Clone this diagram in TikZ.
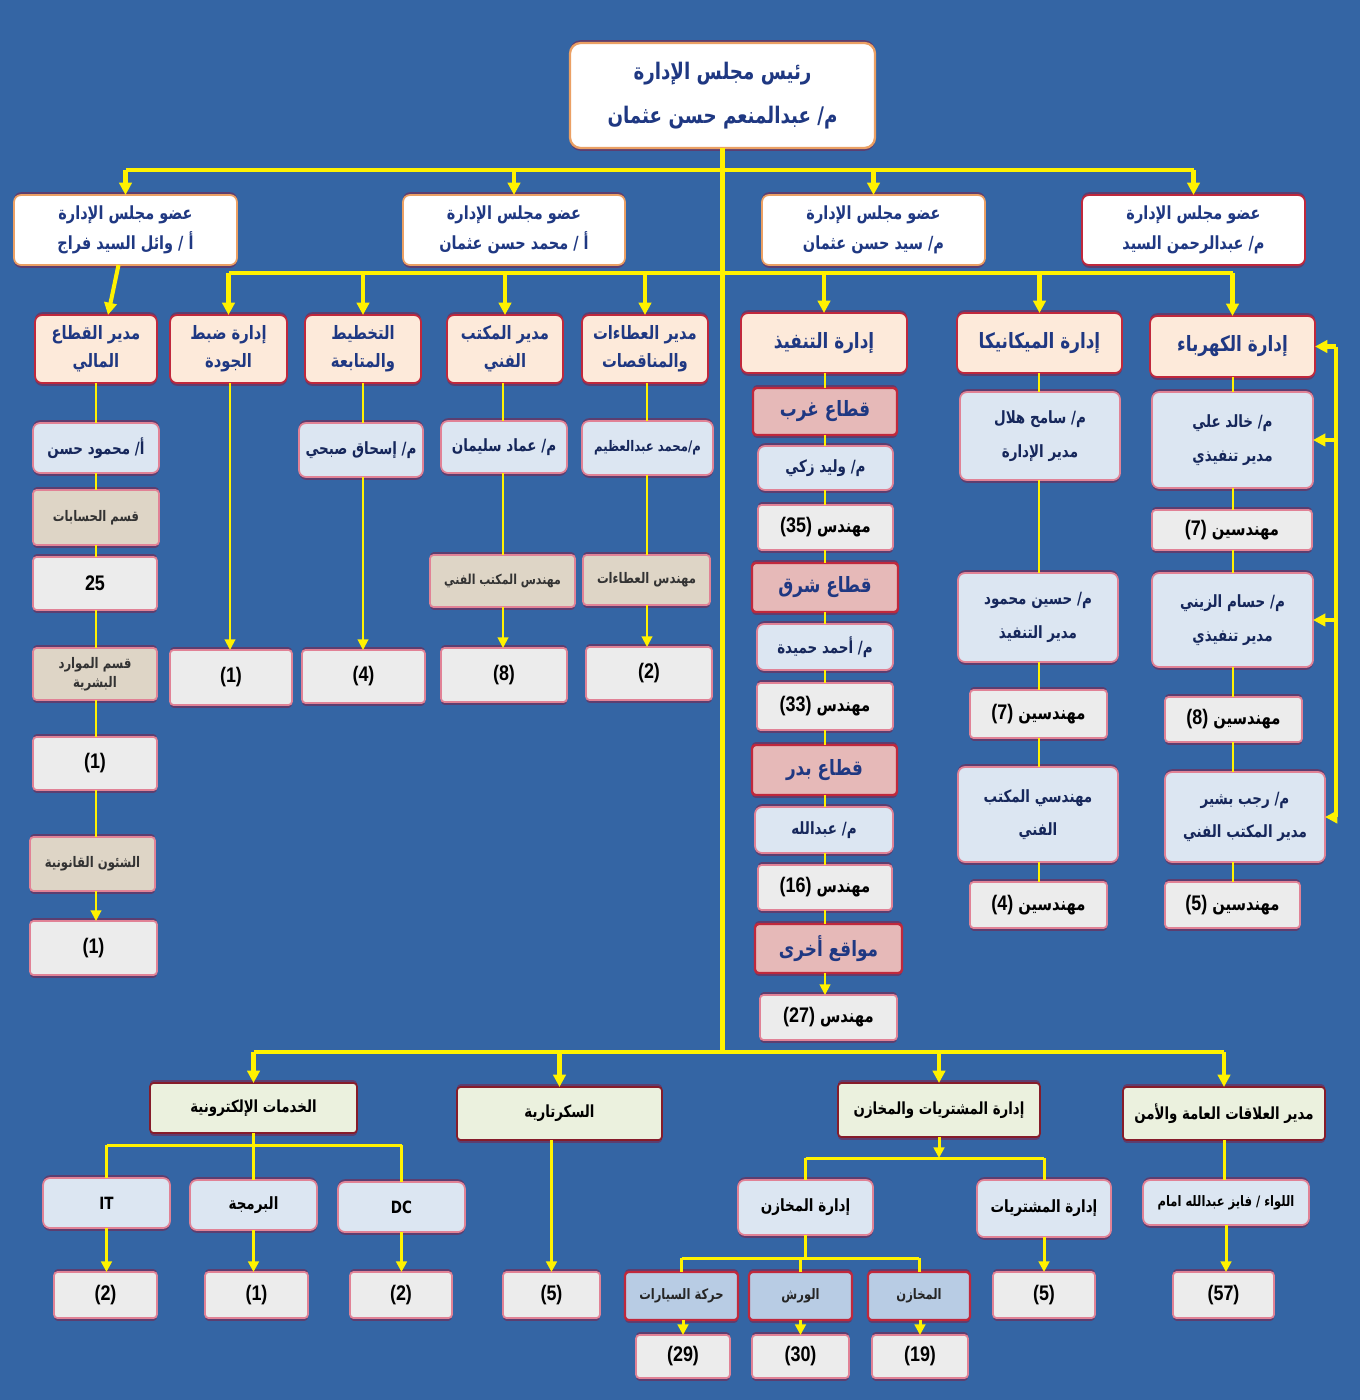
\documentclass[tikz,border=0pt]{standalone}
\usepackage{fontspec}
\setmainfont{Liberation Sans}[FakeStretch=0.85]
\newfontfamily\arabicfont[Script=Arabic,FakeStretch=0.8]{DejaVu Sans}
\TeXXeTstate=1
\usetikzlibrary{arrows.meta,shadows,calc}
\definecolor{bgblue}{RGB}{52,101,164}
\definecolor{navy}{RGB}{31,56,130}
\definecolor{peach}{RGB}{253,234,218}
\definecolor{brick}{RGB}{192,40,60}
\definecolor{orangeline}{RGB}{235,160,100}
\definecolor{paleblue}{RGB}{220,230,242}
\definecolor{pinkline}{RGB}{225,130,150}
\definecolor{greyfill}{RGB}{236,236,236}
\definecolor{tanfill}{RGB}{222,213,198}
\definecolor{rosefill}{RGB}{230,185,184}
\definecolor{palegreen}{RGB}{235,241,222}
\definecolor{midblue}{RGB}{184,204,228}
\definecolor{shadowc}{RGB}{92,62,112}
\newcommand\ar[1]{{\arabicfont\beginR #1\endR}}
\def\pu{0.02cm}
\newcommand\bx[7]{\node[#2,minimum width={(#5-#3)*\pu},minimum height={(#6-#4)*\pu}] (#1) at ({(#3+#5)/2},{(#4+#6)/2}) {#7};}
\tikzset{
  box/.style={draw, rounded corners=2pt, line width=1pt, outer sep=0pt, inner sep=1pt, align=center,
    drop shadow={shadow xshift=0pt, shadow yshift=-1.6pt, opacity=1, fill=shadowc},
    general shadow={shadow xshift=0pt, shadow yshift=1.6pt, opacity=1, fill=shadowc}},
  chairbox/.style={box, fill=white, draw=orangeline, rounded corners=6pt, line width=1.3pt, text=navy,
    font=\arabicfont\bfseries\fontsize{13}{25}\selectfont},
  boardbox/.style={box, fill=white, draw=orangeline, rounded corners=4pt, text=navy,
    font=\arabicfont\bfseries\fontsize{10.3}{17}\selectfont},
  deptbox/.style={box, fill=peach, draw=brick, rounded corners=4pt, text=navy,
    font=\arabicfont\bfseries\fontsize{12}{16}\selectfont},
  smalldept/.style={deptbox, font=\arabicfont\bfseries\fontsize{10.5}{16}\selectfont},
  personbox/.style={box, fill=paleblue, draw=pinkline, rounded corners=4pt, text=navy!70!black,
    font=\arabicfont\bfseries\fontsize{9.6}{19}\selectfont},
  countbox/.style={box, fill=greyfill, draw=pinkline, text=black,
    font=\bfseries\fontsize{12}{15}\selectfont},
  tanbox/.style={box, fill=tanfill, draw=pinkline, text=black!80,
    font=\arabicfont\bfseries\fontsize{8.3}{11}\selectfont},
  sectorbox/.style={box, fill=rosefill, draw=brick, line width=1.4pt, text=navy,
    font=\arabicfont\bfseries\fontsize{12}{15}\selectfont},
  unitbox/.style={box, fill=palegreen, draw=brick!70!black, text=black,
    font=\arabicfont\bfseries\fontsize{9.5}{14}\selectfont},
  subbox/.style={box, fill=midblue, draw=brick, line width=1.3pt, text=black!85,
    font=\arabicfont\bfseries\fontsize{8.2}{12}\selectfont},
  trunk/.style={draw=yellow, line width=2.3pt},
  trunkarr/.style={trunk, -{Triangle[width=7pt,length=7pt]}},
  branch/.style={draw=yellow, line width=1.7pt},
  brancharr/.style={branch, -{Triangle[width=6pt,length=6pt]}},
  colline/.style={draw=yellow, line width=1.1pt},
  colarr/.style={colline, -{Triangle[width=6pt,length=6pt]}}
}
\newcommand\cnt[2]{#1 {\fontsize{10.5}{14}\selectfont\ar{#2}}}
\begin{document}
\begin{tikzpicture}[x=0.02cm, y=-0.02cm, line join=round]
\fill[bgblue] (0,0) rectangle (1360,1400);
\useasboundingbox (0,0) rectangle (1360,1400);

\bx{chair}{chairbox}{570}{43}{875}{148}{\ar{رئيس مجلس الإدارة}\\\ar{م/ عبدالمنعم حسن عثمان}}
\bx{b1}{boardbox}{14}{195}{237}{265}{\ar{عضو مجلس الإدارة}\\\ar{أ / وائل السيد فراج}}
\bx{b2}{boardbox}{403}{195}{625}{265}{\ar{عضو مجلس الإدارة}\\\ar{أ / محمد حسن عثمان}}
\bx{b3}{boardbox}{762}{195}{985}{265}{\ar{عضو مجلس الإدارة}\\\ar{م/ سيد حسن عثمان}}
\bx{b4}{boardbox,draw=brick}{1082}{195}{1305}{265}{\ar{عضو مجلس الإدارة}\\\ar{م/ عبدالرحمن السيد}}

\bx{d1}{smalldept}{35}{315}{157}{383}{\ar{مدير القطاع}\\\ar{المالي}}
\bx{d2}{smalldept}{170}{315}{287}{383}{\ar{إدارة ضبط}\\\ar{الجودة}}
\bx{d3}{smalldept}{305}{315}{421}{383}{\ar{التخطيط}\\\ar{والمتابعة}}
\bx{d4}{smalldept}{447}{315}{563}{383}{\ar{مدير المكتب}\\\ar{الفني}}
\bx{d5}{smalldept}{582}{315}{708}{383}{\ar{مدير العطاءات}\\\ar{والمناقصات}}
\bx{d6}{deptbox}{741}{313}{907}{373}{\ar{إدارة التنفيذ}}
\bx{d7}{deptbox}{957}{313}{1122}{373}{\ar{إدارة الميكانيكا}}
\bx{d8}{deptbox}{1150}{316}{1315}{377}{\ar{إدارة الكهرباء}}

\bx{f1}{personbox}{33}{423}{159}{473}{\ar{أ/ محمود حسن}}
\bx{f2}{tanbox}{33}{490}{159}{545}{\ar{قسم الحسابات}}
\bx{f3}{countbox}{33}{557}{157}{610}{25}
\bx{f4}{tanbox}{33}{648}{157}{700}{\ar{قسم الموارد}\\\ar{البشرية}}
\bx{f5}{countbox}{33}{737}{157}{790}{(1)}
\bx{f6}{tanbox}{30}{837}{155}{891}{\ar{الشئون القانونية}}
\bx{f7}{countbox}{30}{921}{157}{975}{(1)}

\bx{q1}{countbox}{170}{650}{292}{705}{(1)}
\bx{p1}{personbox}{299}{423}{423}{477}{\ar{م/ إسحاق صبحي}}
\bx{p2}{countbox}{302}{650}{425}{703}{(4)}
\bx{t1}{personbox}{441}{421}{567}{473}{\ar{م/ عماد سليمان}}
\bx{t2}{tanbox,font=\arabicfont\bfseries\fontsize{7.8}{11}\selectfont}{430}{555}{575}{607}{\ar{مهندس المكتب الفني}}
\bx{t3}{countbox}{441}{648}{567}{702}{(8)}
\bx{n1}{personbox,font=\arabicfont\bfseries\fontsize{8.3}{12}\selectfont}{582}{421}{713}{475}{\ar{م/محمد عبدالعظيم}}
\bx{n2}{tanbox}{583}{555}{710}{605}{\ar{مهندس العطاءات}}
\bx{n3}{countbox}{586}{647}{712}{700}{(2)}

\bx{e1}{sectorbox}{753}{388}{897}{435}{\ar{قطاع غرب}}
\bx{e2}{personbox}{758}{446}{893}{490}{\ar{م/ وليد زكي}}
\bx{e3}{countbox}{758}{505}{893}{550}{\cnt{(35)}{مهندس}}
\bx{e4}{sectorbox}{752}{563}{898}{612}{\ar{قطاع شرق}}
\bx{e5}{personbox}{757}{624}{893}{670}{\ar{م/ أحمد حميدة}}
\bx{e6}{countbox}{757}{683}{893}{730}{\cnt{(33)}{مهندس}}
\bx{e7}{sectorbox}{752}{745}{897}{795}{\ar{قطاع بدر}}
\bx{e8}{personbox}{755}{807}{893}{853}{\ar{م/ عبدالله}}
\bx{e9}{countbox}{758}{865}{892}{910}{\cnt{(16)}{مهندس}}
\bx{e10}{sectorbox}{755}{924}{902}{973}{\ar{مواقع أخرى}}
\bx{e11}{countbox}{760}{995}{897}{1040}{\cnt{(27)}{مهندس}}

\bx{m1}{personbox}{960}{392}{1120}{480}{\ar{م/ سامح هلال}\\\ar{مدير الإدارة}}
\bx{m2}{personbox}{958}{573}{1118}{662}{\ar{م/ حسين محمود}\\\ar{مدير التنفيذ}}
\bx{m3}{countbox}{970}{690}{1107}{738}{\cnt{(7)}{مهندسين}}
\bx{m4}{personbox}{958}{767}{1118}{862}{\ar{مهندسي المكتب}\\\ar{الفني}}
\bx{m5}{countbox}{970}{882}{1107}{928}{\cnt{(4)}{مهندسين}}

\bx{k1}{personbox}{1152}{392}{1313}{488}{\ar{م/ خالد علي}\\\ar{مدير تنفيذي}}
\bx{k2}{countbox}{1152}{510}{1312}{550}{\cnt{(7)}{مهندسين}}
\bx{k3}{personbox}{1152}{573}{1313}{667}{\ar{م/ حسام الزيني}\\\ar{مدير تنفيذي}}
\bx{k4}{countbox}{1165}{697}{1302}{742}{\cnt{(8)}{مهندسين}}
\bx{k5}{personbox}{1165}{772}{1325}{862}{\ar{م/ رجب بشير}\\\ar{مدير المكتب الفني}}
\bx{k6}{countbox}{1165}{882}{1300}{928}{\cnt{(5)}{مهندسين}}

\bx{u1}{unitbox}{150}{1083}{357}{1133}{\ar{الخدمات الإلكترونية}}
\bx{u2}{unitbox}{457}{1087}{662}{1140}{\ar{السكرتارية}}
\bx{u3}{unitbox}{838}{1083}{1040}{1137}{\ar{إدارة المشتريات والمخازن}}
\bx{u4}{unitbox}{1123}{1087}{1325}{1140}{\ar{مدير العلاقات العامة والأمن}}
\bx{it}{personbox,text=black}{43}{1178}{170}{1228}{\bfseries IT}
\bx{pg}{personbox,text=black}{190}{1180}{317}{1230}{\ar{البرمجة}}
\bx{dc}{personbox,text=black}{338}{1182}{465}{1232}{\bfseries DC}
\bx{c1}{countbox}{54}{1272}{157}{1318}{(2)}
\bx{c2}{countbox}{205}{1272}{308}{1318}{(1)}
\bx{c3}{countbox}{350}{1272}{452}{1318}{(2)}
\bx{c4}{countbox}{503}{1272}{600}{1318}{(5)}
\bx{s1}{personbox,text=black}{738}{1180}{873}{1235}{\ar{إدارة المخازن}}
\bx{s2}{personbox,text=black}{977}{1180}{1111}{1237}{\ar{إدارة المشتريات}}
\bx{c5}{countbox}{993}{1272}{1095}{1318}{(5)}
\bx{w1}{subbox}{625}{1272}{738}{1320}{\ar{حركة السيارات}}
\bx{w2}{subbox}{749}{1272}{852}{1320}{\ar{الورش}}
\bx{w3}{subbox}{868}{1272}{970}{1320}{\ar{المخازن}}
\bx{c6}{countbox}{636}{1335}{730}{1378}{(29)}
\bx{c7}{countbox}{752}{1335}{849}{1378}{(30)}
\bx{c8}{countbox}{872}{1335}{968}{1378}{(19)}
\bx{g1}{personbox,text=black,font=\arabicfont\bfseries\fontsize{8.2}{12}\selectfont}{1143}{1180}{1309}{1225}{\ar{اللواء / فايز عبدالله امام}}
\bx{c9}{countbox}{1173}{1272}{1274}{1318}{(57)}

\coordinate (h1) at (720,170);
\coordinate (h2) at (720,273);
\coordinate (h3) at (722,1052);
\coordinate (loop) at (1336,0);
\coordinate (esj) at (0,1145);
\coordinate (puj) at (0,1158);
\coordinate (stj) at (0,1258);

\draw[trunk] (chair.south) -- (chair.south |- h3);
\draw[trunk] (b1.north |- h1) -- (b4.north |- h1);
\foreach \n in {b1,b2,b3,b4} \draw[trunkarr] (\n.north |- h1) -- (\n.north);
\draw[trunk] (d2.north |- h2) -- (d8.north |- h2);
\foreach \n in {d2,d3,d4,d5,d6,d7,d8} \draw[trunkarr] (\n.north |- h2) -- (\n.north);
\draw[trunkarr] ($(b1.south)+(-7,0)$) -- ($(d1.north)+(12,0)$);

\foreach \a/\b in {d1/f1,f1/f2,f2/f3,f3/f4,f4/f5,f5/f6} \draw[colline] (\a.south -| 96,0) -- (\b.north -| 96,0);
\draw[colarr] (f6.south -| 96,0) -- (f7.north -| 96,0);
\draw[colarr] (d2.south -| 230,0) -- (q1.north -| 230,0);
\draw[colline] (d3.south -| 363,0) -- (p1.north -| 363,0);
\draw[colarr] (p1.south -| 363,0) -- (p2.north -| 363,0);
\foreach \a/\b in {d4/t1,t1/t2} \draw[colline] (\a.south -| 503,0) -- (\b.north -| 503,0);
\draw[colarr] (t2.south -| 503,0) -- (t3.north -| 503,0);
\foreach \a/\b in {d5/n1,n1/n2} \draw[colline] (\a.south -| 647,0) -- (\b.north -| 647,0);
\draw[colarr] (n2.south -| 647,0) -- (n3.north -| 647,0);
\foreach \a/\b in {d6/e1,e1/e2,e2/e3,e3/e4,e4/e5,e5/e6,e6/e7,e7/e8,e8/e9,e9/e10} \draw[colline] (\a.south -| 825,0) -- (\b.north -| 825,0);
\draw[colarr] (e10.south -| 825,0) -- (e11.north -| 825,0);
\foreach \a/\b in {d7/m1,m1/m2,m2/m3,m3/m4,m4/m5} \draw[colline] (\a.south -| 1039,0) -- (\b.north -| 1039,0);
\foreach \a/\b in {d8/k1,k1/k2,k2/k3,k3/k4,k4/k5,k5/k6} \draw[colline] (\a.south -| 1233,0) -- (\b.north -| 1233,0);

\draw[trunk] (loop |- d8.east) -- (loop |- k5.east);
\foreach \n in {d8,k1,k3,k5} \draw[trunkarr] (loop |- \n.east) -- (\n.east);

\draw[trunk] (u1.north |- h3) -- (u4.north |- h3);
\foreach \n in {u1,u2,u3,u4} \draw[trunkarr] (\n.north |- h3) -- (\n.north);

\draw[branch] (u1.south) -- (u1.south |- esj);
\draw[branch] (it.north |- esj) -- (dc.north |- esj);
\foreach \n in {it,pg,dc} \draw[branch] (\n.north |- esj) -- (\n.north);
\draw[brancharr] (it.south) -- (it.south |- c1.north);
\draw[brancharr] (pg.south) -- (pg.south |- c2.north);
\draw[brancharr] (dc.south) -- (dc.south |- c3.north);
\draw[brancharr] (c4.north |- u2.south) -- (c4.north);

\draw[brancharr] (u3.south) -- (u3.south |- puj);
\draw[branch] (s1.north |- puj) -- (s2.north |- puj);
\foreach \n in {s1,s2} \draw[branch] (\n.north |- puj) -- (\n.north);
\draw[brancharr] (s2.south) -- (s2.south |- c5.north);
\draw[branch] (s1.south) -- (s1.south |- stj);
\draw[branch] (w1.north |- stj) -- (w3.north |- stj);
\foreach \n in {w1,w2,w3} \draw[branch] (\n.north |- stj) -- (\n.north);
\draw[brancharr] (c6.north |- w1.south) -- (c6.north);
\draw[brancharr] (c7.north |- w2.south) -- (c7.north);
\draw[brancharr] (c8.north |- w3.south) -- (c8.north);

\draw[branch] (u4.south) -- (u4.south |- g1.north);
\draw[brancharr] (g1.south) -- (g1.south |- c9.north);
\end{tikzpicture}
\end{document}
